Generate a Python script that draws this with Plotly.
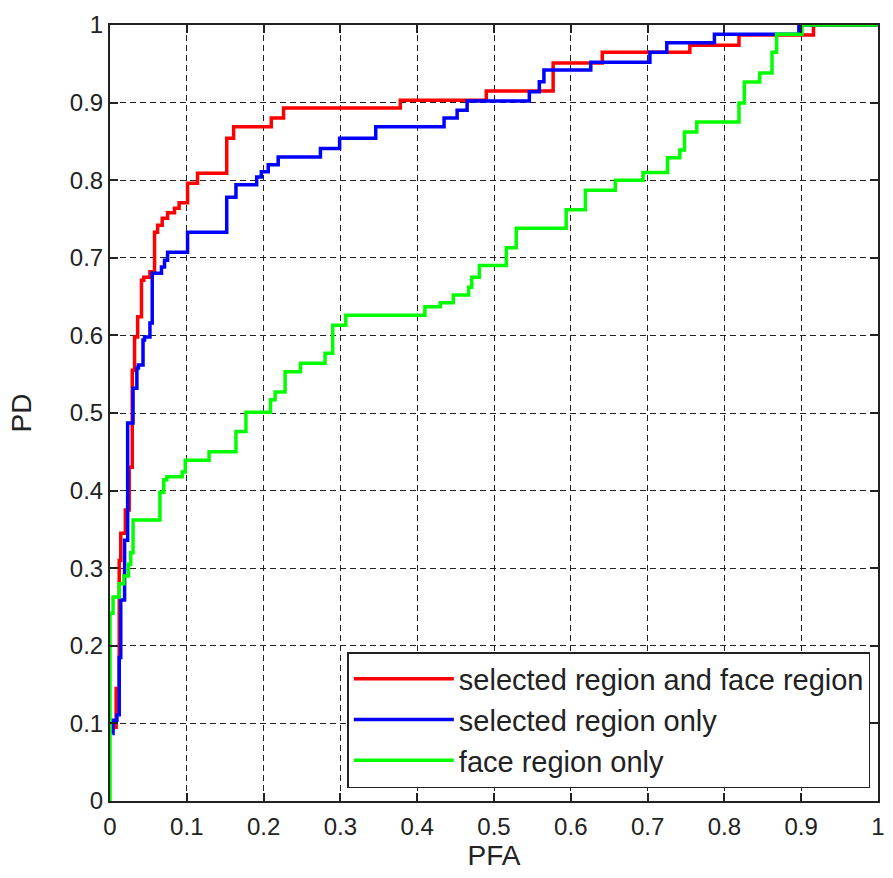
import plotly.graph_objects as go

# ROC operating points (PFA, PD) for each detector configuration
pfa_both = [0.004, 0.008, 0.012, 0.014, 0.020, 0.025, 0.029, 0.032, 0.036, 0.041, 0.044, 0.052,
            0.058, 0.062, 0.068, 0.075, 0.084, 0.090, 0.101, 0.114, 0.152, 0.161, 0.210, 0.226,
            0.378, 0.490, 0.577, 0.641, 0.755, 0.819, 0.916, 1.0]
pd_both = [0.095, 0.145, 0.310, 0.345, 0.375, 0.430, 0.555, 0.598, 0.624, 0.671, 0.675, 0.682,
           0.733, 0.742, 0.751, 0.758, 0.764, 0.771, 0.796, 0.809, 0.854, 0.869, 0.880, 0.893,
           0.903, 0.915, 0.951, 0.965, 0.974, 0.987, 1.0, 1.0]

pfa_sel = [0.003, 0.004, 0.009, 0.012, 0.014, 0.019, 0.023, 0.030, 0.035, 0.037, 0.043, 0.045,
           0.052, 0.055, 0.067, 0.071, 0.075, 0.101, 0.152, 0.164, 0.191, 0.197, 0.206, 0.219,
           0.274, 0.299, 0.346, 0.435, 0.452, 0.465, 0.546, 0.559, 0.565, 0.626, 0.703, 0.725,
           0.787, 0.897, 1.0]
pd_sel = [0.087, 0.104, 0.111, 0.185, 0.259, 0.336, 0.487, 0.532, 0.558, 0.562, 0.594, 0.598,
          0.616, 0.680, 0.688, 0.697, 0.707, 0.733, 0.778, 0.794, 0.804, 0.811, 0.820, 0.830,
          0.841, 0.854, 0.869, 0.880, 0.890, 0.902, 0.914, 0.927, 0.942, 0.952, 0.965, 0.977,
          0.988, 1.0, 1.0]

pfa_face = [0.0, 0.0, 0.004, 0.012, 0.018, 0.024, 0.027, 0.030, 0.065, 0.070, 0.074, 0.094,
            0.098, 0.129, 0.164, 0.177, 0.209, 0.215, 0.228, 0.248, 0.280, 0.290, 0.307, 0.410,
            0.430, 0.447, 0.467, 0.471, 0.481, 0.516, 0.529, 0.594, 0.619, 0.658, 0.694, 0.726,
            0.742, 0.748, 0.764, 0.819, 0.826, 0.846, 0.862, 0.868, 0.901, 1.0]
pd_face = [0.0, 0.242, 0.263, 0.280, 0.290, 0.305, 0.320, 0.362, 0.398, 0.414, 0.418, 0.424,
           0.439, 0.450, 0.476, 0.501, 0.517, 0.527, 0.553, 0.564, 0.577, 0.613, 0.626, 0.637,
           0.642, 0.652, 0.662, 0.675, 0.690, 0.713, 0.738, 0.762, 0.787, 0.800, 0.810, 0.829,
           0.839, 0.862, 0.875, 0.8995, 0.9265, 0.938, 0.965, 0.988, 1.0, 1.0]

tick_vals = [0, 0.1, 0.2, 0.3, 0.4, 0.5, 0.6, 0.7, 0.8, 0.9, 1]
tick_text = ["0", "0.1", "0.2", "0.3", "0.4", "0.5", "0.6", "0.7", "0.8", "0.9", "1"]

series = [
    ("selected region and face region", pfa_both, pd_both, "#ff0000"),
    ("selected region only", pfa_sel, pd_sel, "#0000ff"),
    ("face region only", pfa_face, pd_face, "#00ff00"),
]

fig = go.Figure()
for name, xs, ys, color in series:
    fig.add_trace(go.Scatter(
        x=xs, y=ys, mode="lines", name=name,
        line=dict(color=color, width=3.5, shape="hv"),
    ))

font_family = "Liberation Sans, Arial, sans-serif"
axis_common = dict(
    range=[0, 1],
    tickmode="array",
    tickvals=tick_vals,
    ticktext=tick_text,
    showgrid=True,
    gridcolor="#222222",
    gridwidth=1.4,
    griddash="6px,4px",
    zeroline=False,
    showline=True,
    linecolor="#222222",
    linewidth=2,
    mirror="ticks",
    ticks="inside",
    ticklen=8,
    tickcolor="#222222",
    tickwidth=1.5,
    tickfont=dict(family=font_family, size=24, color="#222222"),
    fixedrange=True,
)

fig.update_xaxes(**axis_common, ticklabelstandoff=3,
                 title=dict(text="PFA", font=dict(family=font_family, size=28, color="#222222"), standoff=6))
fig.update_yaxes(**axis_common,
                 title=dict(text="PD", font=dict(family=font_family, size=28, color="#222222"), standoff=30))

fig.update_layout(
    width=893, height=878,
    margin=dict(l=110, r=8, t=25, b=77),
    paper_bgcolor="white",
    plot_bgcolor="white",
    showlegend=True,
    legend=dict(
        x=0.99, y=0.192, xanchor="right", yanchor="top",
        bgcolor="white", bordercolor="#222222", borderwidth=1.5,
        font=dict(family=font_family, size=29, color="#222222"),
        itemwidth=100,
        tracegroupgap=0,
    ),
)

fig.write_html("out.html")
